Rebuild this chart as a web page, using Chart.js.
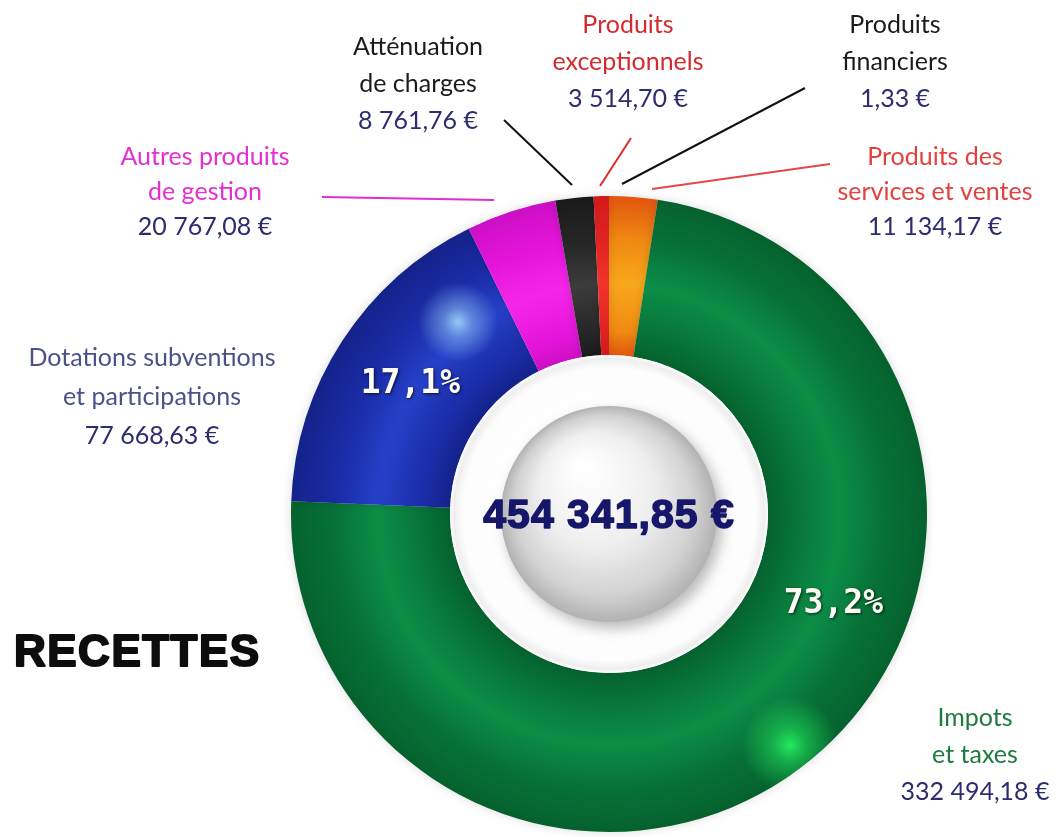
<!DOCTYPE html>
<html lang="fr">
<head>
<meta charset="utf-8">
<script src="https://cdn.jsdelivr.net/npm/chart.js@4/dist/chart.umd.min.js"></script>
<style>
  html, body { margin: 0; padding: 0; background: #ffffff; }
  #wrap { width: 1057px; height: 837px; position: relative; }
</style>
</head>
<body>
<div id="wrap"><canvas id="c" width="1057" height="837"></canvas></div>
<script>
// ---- DATA ----
const categories = [
  'Produits des services et ventes',
  'Impots et taxes',
  'Dotations subventions et participations',
  'Autres produits de gestion',
  'Atténuation de charges',
  'Produits exceptionnels',
  'Produits financiers'
];
const values = [11134.17, 332494.18, 77668.63, 20767.08, 8761.76, 3514.70, 1.33];
const labelLines = [
  ['Produits des', 'services et ventes'],
  ['Impots', 'et taxes'],
  ['Dotations subventions', 'et participations'],
  ['Autres produits', 'de gestion'],
  ['Atténuation', 'de charges'],
  ['Produits', 'exceptionnels'],
  ['Produits', 'financiers']
];
const chartTitle = 'RECETTES';

// ---- STYLE ----
// [edge, highlight, body]
const baseColors = [
  ['#e2560f', '#f9a81c', '#f08a12'],   // orange
  ['#05612e', '#0c8e47', '#077238'],   // green
  ['#14228a', '#2540c8', '#1a2ba6'],   // blue
  ['#cc0fc4', '#f526ea', '#e514da'],   // magenta
  ['#1a1a1a', '#3c3c3c', '#262626'],   // black
  ['#d21a1a', '#f2342c', '#e02222'],   // red
  ['#c8a000', '#ffd400', '#c8a000']    // financiers
];
const nameColors = ['#e2413f', '#1f7a40', '#4a5288', '#e42fd2', '#1b1b1b', '#d52a2e', '#1b1b1b'];
const valueColor = '#2b2d6e';
// label anchor (center x, first line center y), line gap
const labelLayout = [
  { x: 935, y: 157, gap: 35 },
  { x: 975, y: 718, gap: 37 },
  { x: 152, y: 358, gap: 39 },
  { x: 205, y: 157, gap: 35 },
  { x: 418, y: 47, gap: 37 },
  { x: 628, y: 25, gap: 37 },
  { x: 895, y: 25, gap: 37 }
];
const leaderLines = [
  { from: [830, 164], to: [652, 189], color: '#e44848' },
  null,
  null,
  { from: [322, 197], to: [494, 200], color: '#e12fcf' },
  { from: [504, 120], to: [572, 185], color: '#111111' },
  { from: [631, 138], to: [600, 186], color: '#e02a2a' },
  { from: [805, 88], to: [622, 184], color: '#111111' }
];
// percentage labels: index, angle (deg clockwise from top, null = mid-arc), radius px
const pctLabels = [
  { index: 2, angle: null, r: 237 },
  { index: 1, angle: 112, r: 242 }
];
// glossy highlight spots
const spots = [
  { x: 458, y: 322, r: 40, color: '170,225,255' },
  { x: 790, y: 745, r: 48, color: '40,255,100' }
];

const total = values.reduce((a, b) => a + b, 0);
function fmtEuro(v) {
  const parts = v.toFixed(2).split('.');
  const intPart = parts[0].replace(/\B(?=(\d{3})+(?!\d))/g, ' ');
  return intPart + ',' + parts[1] + ' €';
}
function fmtPct(v) {
  return (v / total * 100).toFixed(1).replace('.', ',');
}

function ringGradient(ctx, i) {
  const chart = ctx.chart;
  const a = chart.chartArea;
  if (!a) return baseColors[i][2];
  const cx = (a.left + a.right) / 2, cy = (a.top + a.bottom) / 2;
  const outer = Math.min(a.right - a.left, a.bottom - a.top) / 2;
  const inner = outer * 0.5;
  const g = chart.ctx.createRadialGradient(cx, cy, inner, cx, cy, outer);
  const c = baseColors[i];
  g.addColorStop(0, c[0]);
  g.addColorStop(0.15, c[2]);
  g.addColorStop(0.45, c[1]);
  g.addColorStop(0.72, c[2]);
  g.addColorStop(1, c[0]);
  return g;
}

const decorPlugin = {
  id: 'decor',
  beforeDatasetsDraw(chart) {
    const ctx = chart.ctx;
    ctx.save();
    ctx.shadowColor = 'rgba(0,0,0,0.14)';
    ctx.shadowBlur = 10;
  },
  afterDatasetsDraw(chart) {
    const ctx = chart.ctx;
    ctx.restore();
    const meta = chart.getDatasetMeta(0);
    const arc0 = meta.data[0];
    const cx = arc0.x, cy = arc0.y;
    const inner = arc0.innerRadius, outer = arc0.outerRadius;

    // glossy spots clipped to ring
    ctx.save();
    ctx.beginPath();
    ctx.arc(cx, cy, outer, 0, Math.PI * 2);
    ctx.arc(cx, cy, inner, 0, Math.PI * 2, true);
    ctx.clip();
    spots.forEach(s => {
      const g = ctx.createRadialGradient(s.x, s.y, 0, s.x, s.y, s.r);
      g.addColorStop(0, 'rgba(' + s.color + ',0.85)');
      g.addColorStop(0.35, 'rgba(' + s.color + ',0.45)');
      g.addColorStop(1, 'rgba(' + s.color + ',0)');
      ctx.fillStyle = g;
      ctx.fillRect(s.x - s.r, s.y - s.r, s.r * 2, s.r * 2);
    });
    ctx.restore();

    // hole: white plate with soft edge shading
    ctx.save();
    let g = ctx.createRadialGradient(cx, cy, inner * 0.6, cx, cy, inner);
    g.addColorStop(0, '#ffffff');
    g.addColorStop(0.8, '#fdfdfd');
    g.addColorStop(0.94, '#eeeeee');
    g.addColorStop(1, '#ffffff');
    ctx.fillStyle = g;
    ctx.beginPath(); ctx.arc(cx, cy, inner, 0, Math.PI * 2); ctx.fill();

    // silver ball
    const br = inner * 0.68;
    ctx.shadowColor = 'rgba(0,0,0,0.28)';
    ctx.shadowBlur = 14;
    ctx.shadowOffsetX = 5;
    ctx.shadowOffsetY = 6;
    g = ctx.createRadialGradient(cx - br * 0.25, cy - br * 0.45, br * 0.05, cx, cy, br);
    g.addColorStop(0, '#ffffff');
    g.addColorStop(0.5, '#efefef');
    g.addColorStop(0.82, '#d2d2d2');
    g.addColorStop(1, '#b2b2b2');
    ctx.fillStyle = g;
    ctx.beginPath(); ctx.arc(cx, cy, br, 0, Math.PI * 2); ctx.fill();
    ctx.restore();

    // total in centre
    ctx.save();
    ctx.font = 'bold 41px "Liberation Sans", Arial, sans-serif';
    ctx.letterSpacing = '1px';
    ctx.fillStyle = '#16166a';
    ctx.strokeStyle = '#16166a';
    ctx.lineWidth = 1.5;
    ctx.lineJoin = 'round';
    ctx.textAlign = 'center';
    ctx.textBaseline = 'middle';
    ctx.strokeText(fmtEuro(total), cx, cy + 3);
    ctx.fillText(fmtEuro(total), cx, cy + 3);
    ctx.restore();

    // percentage labels
    ctx.save();
    ctx.font = 'bold 33px "DejaVu Sans Mono", monospace';
    ctx.fillStyle = '#fbfbf4';
    ctx.textAlign = 'center';
    ctx.textBaseline = 'middle';
    ctx.shadowColor = 'rgba(0,0,0,0.7)';
    ctx.shadowBlur = 3;
    ctx.shadowOffsetX = 1;
    ctx.shadowOffsetY = 1;
    pctLabels.forEach(p => {
      const arc = meta.data[p.index];
      let ang;
      if (p.angle === null) ang = (arc.startAngle + arc.endAngle) / 2;
      else ang = p.angle * Math.PI / 180 - Math.PI / 2;
      const x = cx + Math.cos(ang) * p.r;
      const y = cy + Math.sin(ang) * p.r;
      ctx.fillText(fmtPct(values[p.index]) + '%', x, y);
    });
    ctx.restore();
  },
  afterDraw(chart) {
    const ctx = chart.ctx;
    // leader lines
    ctx.save();
    ctx.lineWidth = 2;
    leaderLines.forEach(l => {
      if (!l) return;
      ctx.strokeStyle = l.color;
      ctx.beginPath();
      ctx.moveTo(l.from[0], l.from[1]);
      ctx.lineTo(l.to[0], l.to[1]);
      ctx.stroke();
    });
    ctx.restore();

    // outside labels
    ctx.save();
    ctx.textAlign = 'center';
    ctx.textBaseline = 'middle';
    ctx.font = '25px Lato, "Open Sans", sans-serif';
    categories.forEach((cat, i) => {
      const lay = labelLayout[i];
      const lines = labelLines[i];
      ctx.fillStyle = nameColors[i];
      lines.forEach((ln, k) => ctx.fillText(ln, lay.x, lay.y + k * lay.gap));
      ctx.fillStyle = valueColor;
      ctx.fillText(fmtEuro(values[i]), lay.x, lay.y + lines.length * lay.gap);
    });
    ctx.restore();

    // title
    ctx.save();
    ctx.font = 'bold 44px "Liberation Sans", Arial, sans-serif';
    ctx.letterSpacing = '1.5px';
    ctx.fillStyle = '#0d0d0d';
    ctx.strokeStyle = '#0d0d0d';
    ctx.lineWidth = 2;
    ctx.lineJoin = 'round';
    ctx.textAlign = 'left';
    ctx.textBaseline = 'alphabetic';
    ctx.strokeText(chartTitle, 14, 666);
    ctx.fillText(chartTitle, 14, 666);
    ctx.restore();
  }
};

new Chart(document.getElementById('c'), {
  type: 'doughnut',
  data: {
    labels: categories,
    datasets: [{
      data: values,
      backgroundColor: (ctx) => ringGradient(ctx, ctx.dataIndex),
      borderWidth: 0,
      hoverOffset: 0,
      offset: 0
    }]
  },
  options: {
    responsive: false,
    devicePixelRatio: 1,
    animation: false,
    events: [],
    cutout: '50%',
    rotation: 0,
    layout: { padding: { left: 291, right: 130, top: 196, bottom: 5 } },
    plugins: {
      legend: { display: false },
      tooltip: { enabled: false },
      title: { display: false }
    }
  },
  plugins: [decorPlugin]
});
</script>
</body>
</html>
